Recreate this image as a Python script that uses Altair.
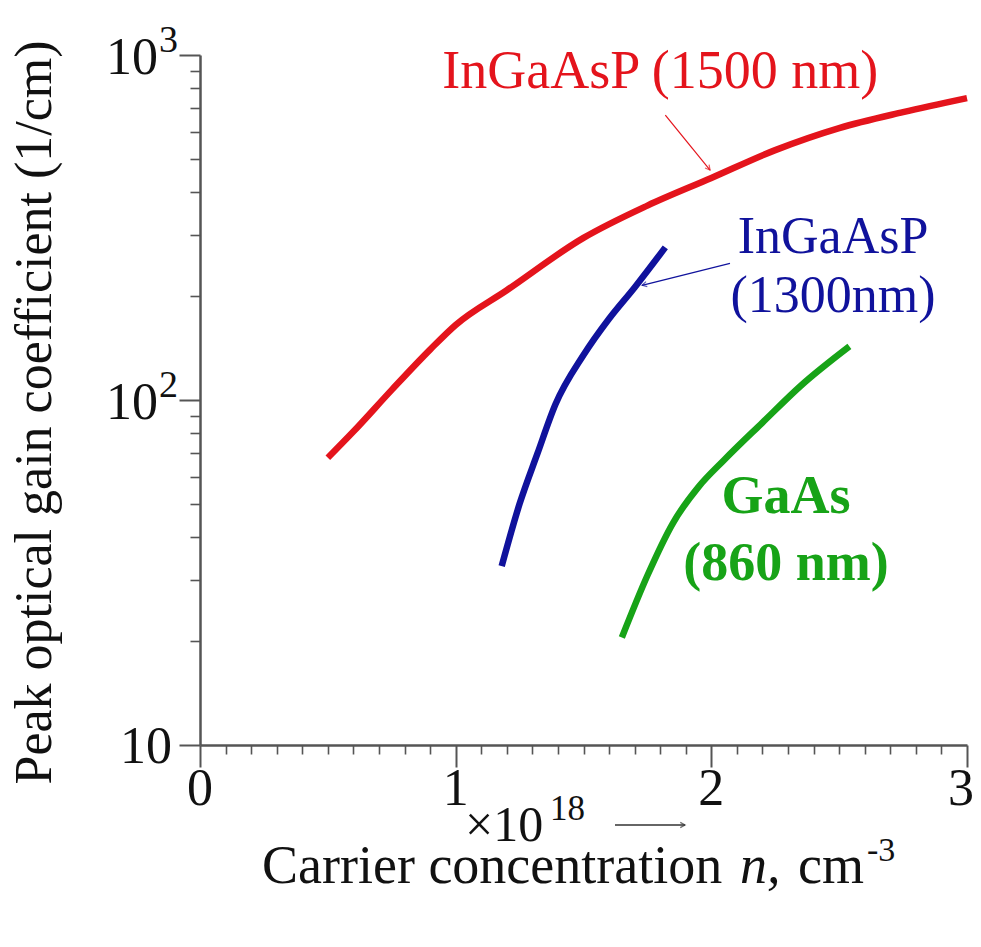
import altair as alt
import pandas as pd

# ---- data ----
red_x = [0.5, 0.6, 0.75, 0.9, 1.0, 1.2, 1.5, 1.75, 2.0, 2.25, 2.5, 2.75, 3.0]
red_y = [68, 81, 107, 140, 165, 208, 295, 366, 440, 530, 614, 683, 750]

blue_x = [1.18, 1.25, 1.32, 1.39, 1.5, 1.6, 1.7, 1.82]
blue_y = [33, 50, 70, 97, 135, 172, 212, 277]

green_x = [1.65, 1.75, 1.85, 1.95, 2.05, 2.2, 2.35, 2.54]
green_y = [20.5, 31, 44, 56, 67, 86, 110, 143]

series_names = ["InGaAsP 1500", "InGaAsP 1300", "GaAs 860"]
series_colors = ["#e4141c", "#10129c", "#17a317"]

x_major = [0, 1, 2, 3]
x_labels = ["0", "1", "2", "3"]
x_minor = [round(i * 0.1, 1) for i in range(31) if i % 10 != 0]
y_major = [10, 100, 1000]
y_minor = [m * d for d in (10, 100) for m in range(2, 10)]

FONT = "Liberation Serif"
INK = "#111111"
AXC = "#555555"

rows = []
for name, xs, ys in zip(series_names, [red_x, blue_x, green_x], [red_y, blue_y, green_y]):
    for i, (a, b) in enumerate(zip(xs, ys)):
        rows.append({"x": a, "y": b, "series": name, "order": i})
df = pd.DataFrame(rows)

xscale = alt.Scale(domain=[0, 3], nice=False, zero=False)
yscale = alt.Scale(type="log", domain=[10, 1000], nice=False)

major_x_axis = alt.Axis(values=x_major, tickSize=22, tickWidth=2, tickColor=AXC,
                        domainColor=AXC, domainWidth=2.5, grid=False, orient="bottom",
                        labels=False, title=None)
minor_x_axis = alt.Axis(values=x_minor, tickSize=9, tickWidth=1.6, tickColor=AXC, orient="bottom",
                        domain=False, labels=False, grid=False, title=None)

major_y_axis = alt.Axis(values=y_major, tickSize=21, tickWidth=2, tickColor=AXC,
                        domainColor=AXC, domainWidth=2.5, grid=False, orient="left",
                        labels=False,
                        title="Peak optical gain coefficient (1/cm)",
                        titleFont=FONT, titleFontSize=52, titleFontWeight="normal",
                        titleColor=INK, titleAngle=-90, titleX=-166, titleY=357,
                        titleAlign="center", titleBaseline="middle")
minor_y_axis = alt.Axis(values=y_minor, tickSize=10, tickWidth=1.6, tickColor=AXC, orient="left",
                        domain=False, labels=False, grid=False, title=None)

color_scale = alt.Scale(domain=series_names, range=series_colors)

lines = alt.Chart(df).mark_line(strokeWidth=6.5, interpolate="monotone").encode(
    x=alt.X("x:Q", scale=xscale, axis=major_x_axis),
    y=alt.Y("y:Q", scale=yscale, axis=major_y_axis),
    color=alt.Color("series:N", scale=color_scale, legend=None),
    order="order:Q",
)

minor = alt.Chart(df).mark_point(opacity=0).encode(
    x=alt.X("x:Q", scale=xscale, axis=minor_x_axis),
    y=alt.Y("y:Q", scale=yscale, axis=minor_y_axis),
)

# x tick labels as text (last one nudged so it stays inside the page)
xl = pd.DataFrame({"v": x_major, "t": x_labels})


def xlab_layer(d, dx):
    return alt.Chart(d).mark_text(font=FONT, fontSize=52, align="center", baseline="alphabetic",
                                  color=INK, dx=dx).encode(
        x=alt.X("v:Q", scale=xscale, axis=None), y=alt.value(750), text="t:N")


xlabels = [xlab_layer(xl[xl["v"] < 3], 0), xlab_layer(xl[xl["v"] == 3], -6)]

# y tick labels with real superscripts
ylab_base = pd.DataFrame({"v": [1000, 100], "t": ["10", "10"]})
ylab_sup = pd.DataFrame({"v": [1000, 100], "t": ["3", "2"]})
ylab_ten = pd.DataFrame({"v": [10], "t": ["10"]})


def ylab_layer(d, size, xpx, dy, align):
    return alt.Chart(d).mark_text(font=FONT, fontSize=size, align=align, baseline="alphabetic",
                                  color=INK, dy=dy).encode(
        y=alt.Y("v:Q", scale=yscale, axis=None), x=alt.value(xpx), text="t:N")


ylabels = [ylab_layer(ylab_base, 52, -42, 19, "right"),
           ylab_layer(ylab_sup, 38, -41, -3, "left"),
           ylab_layer(ylab_ten, 52, -28, 18, "right")]

# annotations (data coordinates, alphabetic baseline)
ann_text = ["InGaAsP (1500 nm)", "InGaAsP", "(1300nm)", "GaAs", "(860 nm)"]
ann_x = [1.80, 2.476, 2.476, 2.292, 2.292]
ann_y = [802, 267, 180, 47.0, 30.1]
ann_color = ["#e4141c", "#10129c", "#10129c", "#17a317", "#17a317"]
ann_size = [54, 52, 52, 54, 54]
ann_bold = [False, False, False, True, True]
ann = pd.DataFrame({"t": ann_text, "x": ann_x, "y": ann_y, "c": ann_color,
                    "s": ann_size, "b": ann_bold})


def text_layer(d, weight):
    return alt.Chart(d).mark_text(font=FONT, baseline="alphabetic", align="center",
                                  fontWeight=weight).encode(
        x=alt.X("x:Q", scale=xscale, axis=None),
        y=alt.Y("y:Q", scale=yscale, axis=None),
        text="t:N",
        color=alt.Color("c:N", scale=None),
        size=alt.Size("s:Q", scale=None),
    )


texts_normal = text_layer(ann[~ann["b"]], "normal")
texts_bold = text_layer(ann[ann["b"]], "bold")

arr_x = [1.82, 2.073]
arr_y = [670, 249]
arr_x2 = [1.995, 1.729]
arr_y2 = [464, 215]
arr_angle = [50.7, 166]
arr_color = ["#e4141c", "#10129c"]
arr = pd.DataFrame({"x": arr_x, "y": arr_y, "x2": arr_x2, "y2": arr_y2,
                    "a": arr_angle, "c": arr_color})

arrow_lines = alt.Chart(arr).mark_rule(strokeWidth=1.2).encode(
    x=alt.X("x:Q", scale=xscale, axis=None),
    y=alt.Y("y:Q", scale=yscale, axis=None),
    x2="x2:Q", y2="y2:Q",
    color=alt.Color("c:N", scale=None),
)
arrow_heads = alt.Chart(arr).mark_point(
    shape="M-1,-0.55L0,0L-1,0.55", filled=False, strokeWidth=1.2, size=90
).encode(
    x=alt.X("x2:Q", scale=xscale, axis=None),
    y=alt.Y("y2:Q", scale=yscale, axis=None),
    angle=alt.Angle("a:Q", scale=None),
    color=alt.Color("c:N", scale=None),
)

# below-axis multiplier text and arrow (pixel positions relative to the plot)
lab = pd.DataFrame({"t": ["×10", "18"], "px": [265, 350], "py": [786, 765], "s": [50, 35]})
mult = alt.Chart(lab).mark_text(font=FONT, align="left", baseline="alphabetic", color=INK).encode(
    x=alt.X("px:Q", scale=None), y=alt.Y("py:Q", scale=None),
    text="t:N", size=alt.Size("s:Q", scale=None),
)
xarrow = alt.Chart(pd.DataFrame({"a": [0]})).mark_rule(strokeWidth=1.3, color="#333333").encode(
    x=alt.value(415), x2=alt.value(485), y=alt.value(770), y2=alt.value(770),
)
xarrow_head = alt.Chart(pd.DataFrame({"a": [0]})).mark_point(
    shape="M-1,-0.55L0,0L-1,0.55", filled=False, strokeWidth=1.3, size=90, color="#333333"
).encode(x=alt.value(485), y=alt.value(770))

xt_text = ["Carrier concentration", "n,", "cm", "-3"]
xt_px = [62, 540, 598, 667]
xt_py = [828, 828, 828, 806]
xt_size = [54, 54, 54, 34]
xt_style = ["normal", "italic", "normal", "normal"]
xtitle_parts = []
for t, px, py, s, st in zip(xt_text, xt_px, xt_py, xt_size, xt_style):
    xtitle_parts.append(
        alt.Chart(pd.DataFrame({"t": [t]})).mark_text(
            font=FONT, fontSize=s, fontStyle=st, align="left",
            baseline="alphabetic", color=INK
        ).encode(text="t:N", x=alt.value(px), y=alt.value(py))
    )

chart = alt.layer(lines, minor, *xlabels, *ylabels, texts_normal, texts_bold, arrow_lines,
                  arrow_heads, mult, xarrow, xarrow_head, *xtitle_parts).resolve_axis(
    x="independent", y="independent").properties(
    width=767, height=690,
    background="white",
    autosize=alt.AutoSizeParams(type="none"),
    padding={"left": 192, "top": 47, "right": 6, "bottom": 190},
).configure_view(stroke=None)

chart.save("out.html", embed_options={"renderer": "svg", "actions": False})
